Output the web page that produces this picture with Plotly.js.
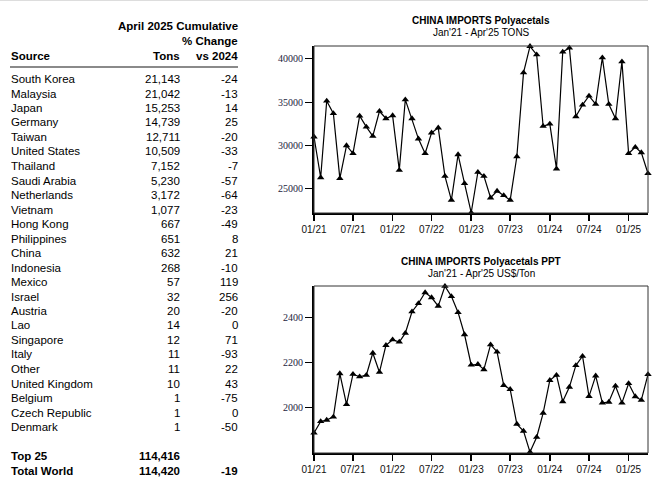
<!DOCTYPE html>
<html><head><meta charset="utf-8">
<script src="https://cdn.plot.ly/plotly-3.0.1.min.js"></script>
<style>html,body{margin:0;padding:0;background:#fff}#c{width:655px;height:493px}</style>
</head><body><div id="c"></div>
<script>
// ---- table data ----
const sources = ["South Korea","Malaysia","Japan","Germany","Taiwan","United States","Thailand","Saudi Arabia","Netherlands","Vietnam","Hong Kong","Philippines","China","Indonesia","Mexico","Israel","Austria","Lao","Singapore","Italy","Other","United Kingdom","Belgium","Czech Republic","Denmark"];
const tons = ["21,143","21,042","15,253","14,739","12,711","10,509","7,152","5,230","3,172","1,077","667","651","632","268","57","32","20","14","12","11","11","10","1","1","1"];
const pctChange = ["-24","-13","14","25","-20","-33","-7","-57","-64","-23","-49","8","21","-10","119","256","-20","0","71","-93","22","43","-75","0","-50"];
const totalsLabels = ["Top 25","Total World"];
const totalsTons = ["114,416","114,420"];
const totalsPct = ["","-19"];

// ---- chart data ----
const months = ["2021-01-01","2021-02-01","2021-03-01","2021-04-01","2021-05-01","2021-06-01","2021-07-01","2021-08-01","2021-09-01","2021-10-01","2021-11-01","2021-12-01",
"2022-01-01","2022-02-01","2022-03-01","2022-04-01","2022-05-01","2022-06-01","2022-07-01","2022-08-01","2022-09-01","2022-10-01","2022-11-01","2022-12-01",
"2023-01-01","2023-02-01","2023-03-01","2023-04-01","2023-05-01","2023-06-01","2023-07-01","2023-08-01","2023-09-01","2023-10-01","2023-11-01","2023-12-01",
"2024-01-01","2024-02-01","2024-03-01","2024-04-01","2024-05-01","2024-06-01","2024-07-01","2024-08-01","2024-09-01","2024-10-01","2024-11-01","2024-12-01",
"2025-01-01","2025-02-01","2025-03-01","2025-04-01"];
const importTons = [31000,26300,35150,33700,26200,30000,29080,33420,32150,31080,33960,33120,
33460,27150,35300,33120,30770,29080,31460,32040,26460,23690,28960,25620,
22230,26920,26460,23960,24730,24230,23690,28730,38420,41460,40500,32230,
32500,27310,40810,41270,33350,34690,35730,34770,40150,34770,33120,39690,
29080,29810,29190,26770];
const pricePPT = [1889,1940,1946,1960,2152,2015,2149,2138,2145,2243,2158,2277,
2302,2292,2331,2426,2463,2511,2489,2451,2539,2494,2423,2325,
2190,2193,2170,2280,2248,2100,2082,1928,1897,1804,1870,1977,
2122,2145,2028,2092,2188,2229,2051,2142,2022,2026,2097,2022,
2108,2050,2034,2148];
const tickDates = ["2021-01-01","2021-07-01","2022-01-01","2022-07-01","2023-01-01","2023-07-01","2024-01-01","2024-07-01","2025-01-01"];
const tickLabels = ["01/21","07/21","01/22","07/22","01/23","07/23","01/24","07/24","01/25"];

const W = 655, H = 493;
const px = x => x / W;
const py = y => (H - y) / H;

const sans = "Liberation Sans, Arial, sans-serif";
const serif = "Liberation Serif, Times New Roman, serif";

const annotations = [];
function txt(x, y, t, anchor, bold, size, color) {
  const dx = anchor === "left" ? -2 : (anchor === "right" ? 2 : 0);
  annotations.push({xref:"paper", yref:"paper", x:px(x + dx), y:py(y), text: bold ? "<b>"+t+"</b>" : t,
    showarrow:false, xanchor:anchor, yanchor:"middle",
    font:{family:sans, size:size||11.5, color:color||"#000"}});
}
// header
txt(238, 26, "April 2025 Cumulative", "right", true);
txt(238, 41.5, "% Change", "right", true);
txt(11, 56, "Source", "left", true);
txt(180, 56, "Tons", "right", true);
txt(238, 56, "vs 2024", "right", true);
// rows
sources.forEach((s, i) => {
  const y = 79 + i * 14.5;
  txt(11, y, s, "left", false);
  txt(180, y, tons[i], "right", false);
  txt(238, y, pctChange[i], "right", false);
});
totalsLabels.forEach((s, i) => {
  const y = 456 + i * 14.7;
  txt(11, y, s, "left", true);
  txt(180, y, totalsTons[i], "right", true);
  if (totalsPct[i]) txt(238, y, totalsPct[i], "right", true);
});
// chart titles
txt(481, 20, "CHINA IMPORTS Polyacetals", "center", true, 10);
txt(481, 32, "Jan'21 - Apr'25 TONS", "center", false, 10);
txt(481, 261, "CHINA IMPORTS Polyacetals PPT", "center", true, 10);
txt(481, 273, "Jan'21 - Apr'25 US$/Ton", "center", false, 10);

const shapes = [
  {type:"line", xref:"paper", yref:"paper", x0:px(10), x1:px(238), y0:py(67), y1:py(67), line:{color:"#8a8a8a", width:2}},
  {type:"line", xref:"paper", yref:"paper", x0:0, x1:px(648), y0:py(0.5), y1:py(0.5), line:{color:"#dddddd", width:1}},
  {type:"rect", xref:"x domain", yref:"y domain", x0:0, x1:1, y0:0, y1:1, line:{color:"#333", width:1}},
  {type:"rect", xref:"x2 domain", yref:"y2 domain", x0:0, x1:1, y0:0, y1:1, line:{color:"#333", width:1}}
];

const lineStyle = {color:"#000", width:1.2};
const markerStyle = {symbol:"triangle-up", size:6.5, color:"#000"};
const traces = [
  {x:months, y:importTons, type:"scatter", mode:"lines+markers", line:lineStyle, marker:markerStyle, cliponaxis:false, xaxis:"x", yaxis:"y", hoverinfo:"skip"},
  {x:months, y:pricePPT, type:"scatter", mode:"lines+markers", line:lineStyle, marker:markerStyle, cliponaxis:false, xaxis:"x2", yaxis:"y2", hoverinfo:"skip"}
];

function xax(anchor) {
  return {domain:[px(314), px(648)], anchor:anchor, type:"date", range:["2021-01-01","2025-04-01"],
    tickvals:tickDates, ticktext:tickLabels, ticks:"outside", ticklen:6, tickwidth:1.5, tickcolor:"#000",
    showgrid:false, zeroline:false, showline:true, linecolor:"#000", linewidth:2,
    tickfont:{family:sans, size:10, color:"#111"}};
}
function yax(anchor, domain, range, tv) {
  return {domain:domain, anchor:anchor, range:range, tickvals:tv, ticktext:tv.map(String),
    ticks:"outside", ticklen:7, tickwidth:1, tickcolor:"#000",
    showgrid:false, zeroline:false, showline:true, linecolor:"#000", linewidth:2,
    tickfont:{family:serif, size:10, color:"#1c1c3c"}};
}
const topTicks = [25000,30000,35000,40000];
const botTicks = [2000,2200,2400];
const layout = {
  width:W, height:H, margin:{l:0,r:0,t:0,b:0}, paper_bgcolor:"#fff", plot_bgcolor:"#fff",
  showlegend:false,
  xaxis: xax("y"),
  yaxis: yax("x", [py(213), py(46)], [22200, 41500], topTicks),
  xaxis2: xax("y2"),
  yaxis2: yax("x2", [py(453), py(286)], [1800, 2540], botTicks),
  annotations: annotations, shapes: shapes
};
Plotly.newPlot("c", traces, layout, {staticPlot:true, displayModeBar:false});
</script>
</body></html>
